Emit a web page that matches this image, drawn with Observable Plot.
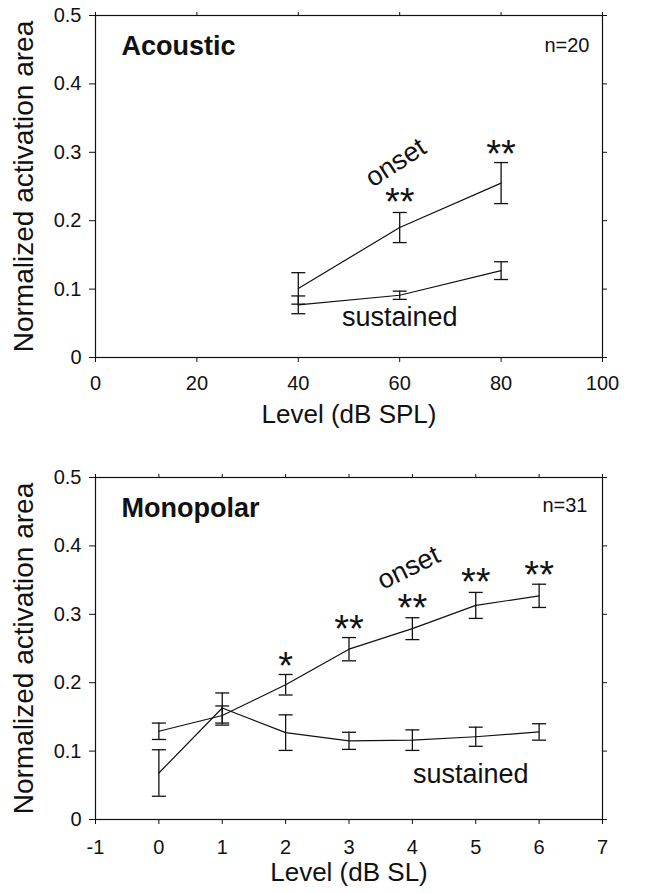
<!DOCTYPE html>
<html><head><meta charset="utf-8">
<script src="https://cdn.jsdelivr.net/npm/d3@7"></script>
<script src="https://cdn.jsdelivr.net/npm/@observablehq/plot@0.6"></script>
<style>
body{margin:0;background:#fff}
#c{width:652px}
#c svg{display:block}
</style>
</head><body><div id="c"></div>
<script>
// ---------- Data ----------
// Panel A: Acoustic (n=20)
const acTitle = "Acoustic";
const acN = "n=20";
const acLevels = [40, 60, 80];
const acOnset = [0.101, 0.190, 0.255];
const acOnsetErr = [0.023, 0.022, 0.030];
const acSust = [0.077, 0.091, 0.127];
const acSustErr = [0.013, 0.006, 0.013];
const acStarX = [60, 80];
const acStarY = [0.240, 0.311];
const acStars = ["**", "**"];
const acXTicks = [0, 20, 40, 60, 80, 100];
const acXLabel = "Level (dB SPL)";
const acOnsetLabelAt = [59.2, 0.285];
const acSustLabelAt = [60, 0.058];

// Panel B: Monopolar (n=31)
const mpTitle = "Monopolar";
const mpN = "n=31";
const mpLevels = [0, 1, 2, 3, 4, 5, 6];
const mpOnset = [0.129, 0.152, 0.197, 0.249, 0.279, 0.313, 0.327];
const mpOnsetErr = [0.012, 0.014, 0.015, 0.017, 0.016, 0.019, 0.017];
const mpSust = [0.068, 0.163, 0.127, 0.115, 0.116, 0.121, 0.128];
const mpSustErr = [0.034, 0.022, 0.026, 0.0125, 0.015, 0.014, 0.012];
const mpStarX = [2, 3, 4, 5, 6];
const mpStarY = [0.238, 0.292, 0.322, 0.360, 0.371];
const mpStars = ["*", "**", "**", "**", "**"];
const mpXTicks = [-1, 0, 1, 2, 3, 4, 5, 6, 7];
const mpXLabel = "Level (dB SL)";
const mpOnsetLabelAt = [3.94, 0.368];
const mpSustLabelAt = [4.92, 0.066];

const yTicks = [0, 0.1, 0.2, 0.3, 0.4, 0.5];
const yLabel = "Normalized activation area";

// ---------- Drawing ----------
const INK = "#111";
const FONT = "'Liberation Sans', Arial, Helvetica, sans-serif";
const capSymbol = {draw(ctx, size) { const r = Math.sqrt(size / Math.PI); ctx.moveTo(-r, 0); ctx.lineTo(r, 0); }};

function rows(xs, ms, es) {
  return xs.map((x, i) => ({x, y: ms[i], lo: ms[i] - es[i], hi: ms[i] + es[i]}));
}

function panel(o) {
  const on = rows(o.levels, o.onset, o.onsetErr);
  const su = rows(o.levels, o.sust, o.sustErr);
  const stars = o.starX.map((x, i) => ({x, y: o.starY[i], t: o.stars[i]}));
  const series = [on, su];
  const marks = [
    Plot.frame({stroke: INK, strokeWidth: 1.2}),
    Plot.axisX(o.xTicks, {anchor: "bottom", tickSize: 5, tickPadding: o.xPad, fontSize: 20, tickFormat: d => String(d), label: null, stroke: INK}),
    Plot.axisX(o.xTicks, {anchor: "top", tickSize: 4, tickFormat: () => "", label: null, stroke: INK}),
    Plot.axisY(yTicks, {anchor: "left", tickSize: 6, tickPadding: 8, fontSize: 20, tickFormat: d => String(d), label: null, stroke: INK}),
    Plot.axisY(yTicks, {anchor: "right", tickSize: 4, tickFormat: () => "", label: null, stroke: INK})
  ];
  for (const s of series) {
    marks.push(
      Plot.line(s, {x: "x", y: "y", stroke: INK, strokeWidth: 1.2}),
      Plot.ruleX(s, {x: "x", y1: "lo", y2: "hi", stroke: INK, strokeWidth: 1.3}),
      Plot.dot(s, {x: "x", y: "lo", symbol: capSymbol, r: 7, fill: "none", stroke: INK, strokeWidth: 1.3}),
      Plot.dot(s, {x: "x", y: "hi", symbol: capSymbol, r: 7, fill: "none", stroke: INK, strokeWidth: 1.3})
    );
  }
  marks.push(
    Plot.text(stars, {x: "x", y: "y", text: "t", fontSize: 38, lineAnchor: "bottom", dy: 22, fill: INK}),
    Plot.text(["onset"], {x: () => o.onsetAt[0], y: () => o.onsetAt[1], fontSize: 27, rotate: o.onsetRot, lineAnchor: "middle", fill: INK}),
    Plot.text(["sustained"], {x: () => o.sustAt[0], y: () => o.sustAt[1], fontSize: 27, lineAnchor: "middle", fill: INK}),
    Plot.text([o.title], {frameAnchor: "top-left", textAnchor: "start", lineAnchor: "bottom", dx: 26, dy: 39, fontSize: 27, fontWeight: "bold", fill: INK}),
    Plot.text([o.n], {frameAnchor: "top-right", textAnchor: "end", lineAnchor: "bottom", dx: o.nDx, dy: o.nDy, fontSize: 20, fill: INK}),
    Plot.text([yLabel], {frameAnchor: "left", textAnchor: "middle", rotate: -90, dx: -71, fontSize: 28, lineAnchor: "middle", fill: INK}),
    Plot.text([o.xLabel], {frameAnchor: "bottom", textAnchor: "middle", dy: o.labelDy, fontSize: 26, lineAnchor: "middle", fill: INK})
  );
  return Plot.plot({
    width: 652,
    height: o.height,
    marginTop: o.mt,
    marginBottom: o.mb,
    marginLeft: 95,
    marginRight: 50,
    x: {domain: [o.xTicks[0], o.xTicks[o.xTicks.length - 1]]},
    y: {domain: [0, 0.5]},
    style: {fontFamily: FONT, color: INK, background: "white", overflow: "visible"},
    marks
  });
}

const c = document.getElementById("c");
c.append(panel({
  levels: acLevels, onset: acOnset, onsetErr: acOnsetErr, sust: acSust, sustErr: acSustErr,
  starX: acStarX, starY: acStarY, stars: acStars, xTicks: acXTicks, xLabel: acXLabel,
  onsetAt: acOnsetLabelAt, sustAt: acSustLabelAt, onsetRot: -33,
  title: acTitle, n: acN, nDx: -13, nDy: 36,
  height: 440, mt: 15, mb: 83, xPad: 13, labelDy: 57
}));
c.append(panel({
  levels: mpLevels, onset: mpOnset, onsetErr: mpOnsetErr, sust: mpSust, sustErr: mpSustErr,
  starX: mpStarX, starY: mpStarY, stars: mpStars, xTicks: mpXTicks, xLabel: mpXLabel,
  onsetAt: mpOnsetLabelAt, sustAt: mpSustLabelAt, onsetRot: -26,
  title: mpTitle, n: mpN, nDx: -15, nDy: 34,
  height: 453, mt: 37, mb: 74, xPad: 15, labelDy: 53
}));
</script>
</body></html>
